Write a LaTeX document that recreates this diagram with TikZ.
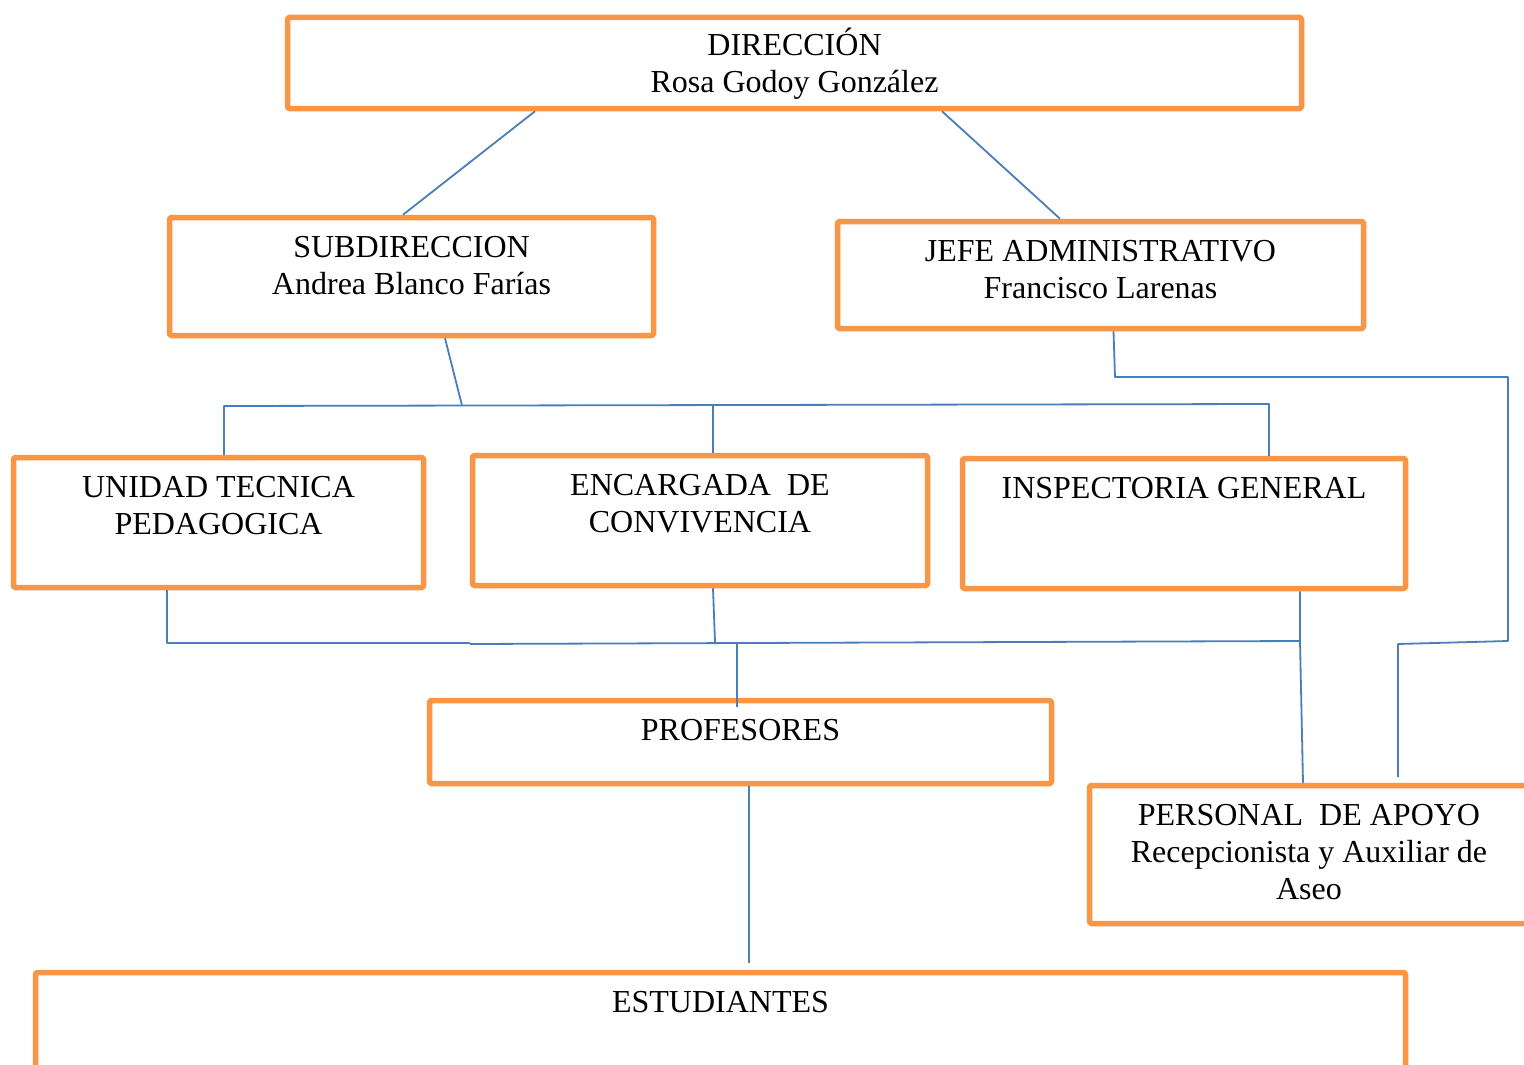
\documentclass[tikz,border=0pt]{standalone}
\usepackage{fontspec}
\setmainfont{Liberation Serif}
\usetikzlibrary{calc}
\definecolor{boxorange}{HTML}{F79646}
\definecolor{linkblue}{HTML}{4A7EBB}
\begin{document}
\begin{tikzpicture}[x=1pt,y=-1pt,
  orgbox/.style={draw=boxorange, line width=5.5pt, line join=round, rounded corners=1.5pt, inner sep=0pt, fill=none},
  boxtext/.style={anchor=north, inner sep=0pt, align=center, font=\fontsize{32}{37}\selectfont},
  link/.style={draw=linkblue, line width=1.8pt, line join=round}]
\useasboundingbox (0,0) rectangle (1524,1065);
\clip (0,0) rectangle (1524,1065);
\fill[white] (0,0) rectangle (1524,1065);
% boxes
\node[orgbox, minimum width=1014pt, minimum height=91pt]  (dir)  at (794.5,63) {};
\node[orgbox, minimum width=484pt,  minimum height=118pt] (sub)  at (411.5,276.5) {};
\node[orgbox, minimum width=526pt,  minimum height=107pt] (jefe) at (1100.5,275) {};
\node[orgbox, minimum width=410pt,  minimum height=130pt] (uni)  at (218.5,522.5) {};
\node[orgbox, minimum width=455pt,  minimum height=130pt] (enc)  at (700,520.5) {};
\node[orgbox, minimum width=443pt,  minimum height=130pt] (insp) at (1184,523.5) {};
\node[orgbox, minimum width=622pt,  minimum height=83pt]  (prof) at (740.5,742) {};
\node[orgbox, minimum width=439pt,  minimum height=138pt] (pers) at (1309,854.5) {};
\node[orgbox, minimum width=1370pt, minimum height=110pt] (est)  at (720.5,1027.5) {};
% texts
\node[boxtext] (dirt)  at ([yshift=-13.5pt]dir.north)  {\strut DIRECCIÓN\\Rosa Godoy González};
\node[boxtext] (subt)  at ([yshift=-16.5pt]sub.north)  {\strut SUBDIRECCION\\Andrea Blanco Farías};
\node[boxtext] (jefet) at ([yshift=-16.5pt]jefe.north) {\strut JEFE ADMINISTRATIVO\\Francisco Larenas};
\node[boxtext] (unit)  at ([yshift=-16.5pt]uni.north)  {\strut UNIDAD TECNICA\\PEDAGOGICA};
\node[boxtext] (enct)  at ([yshift=-16.5pt]enc.north)  {\strut ENCARGADA~~DE\\CONVIVENCIA};
\node[boxtext] (inspt) at ([yshift=-16.5pt]insp.north) {\strut INSPECTORIA GENERAL};
\node[boxtext] (proft) at ([yshift=-16.5pt]prof.north) {\strut PROFESORES};
\node[boxtext] (perst) at ([yshift=-16.5pt]pers.north) {\strut PERSONAL~~DE APOYO\\Recepcionista y Auxiliar de\\Aseo};
\node[boxtext] (estt)  at ([yshift=-16.5pt]est.north)  {\strut ESTUDIANTES};
% junction coordinates
\coordinate (b1) at (224,406);
\coordinate (b2) at (462,405.5);
\coordinate (b3) at (713,405);
\coordinate (b4) at (1269,404);
\coordinate (c1) at (1115,377);
\coordinate (c2) at (1508,377);
\coordinate (c3) at (1508,641);
\coordinate (c4) at (1398,644);
\coordinate (c5) at (1398,777);
\coordinate (d1) at (167,643);
\coordinate (d2) at (470,643);
\coordinate (d2b) at (470,644);
\coordinate (d3) at (1300,641);
\coordinate (e1) at (715,642);
\coordinate (f1) at (737,644);
\coordinate (f2) at (737,707);
\coordinate (g1) at (749,963);
% connectors
\draw[link] ([xshift=-259.5pt]dir.south) -- ([xshift=-8.5pt]sub.north);
\draw[link] ([xshift=147.5pt]dir.south) -- ([xshift=-40.5pt]jefe.north);
\draw[link] ([xshift=33.5pt]sub.south) -- (b2);
\draw[link] ([xshift=5.5pt]uni.north) -- (b1) -- (b4) -- ([xshift=85pt]insp.north);
\draw[link] (b3) -- ([xshift=13pt]enc.north);
\draw[link] ([xshift=13pt]jefe.south) -- (c1) -- (c2) -- (c3) -- (c4) -- (c5);
\draw[link] ([xshift=-51.5pt]uni.south) -- (d1) -- (d2);
\draw[link] (d2b) -- (d3);
\draw[link] ([xshift=13pt]enc.south) -- (e1);
\draw[link] ([xshift=116pt]insp.south) -- (d3) -- ([xshift=-6pt]pers.north);
\draw[link] (f1) -- (f2);
\draw[link] ([xshift=8.5pt]prof.south) -- (g1);
\end{tikzpicture}
\end{document}
